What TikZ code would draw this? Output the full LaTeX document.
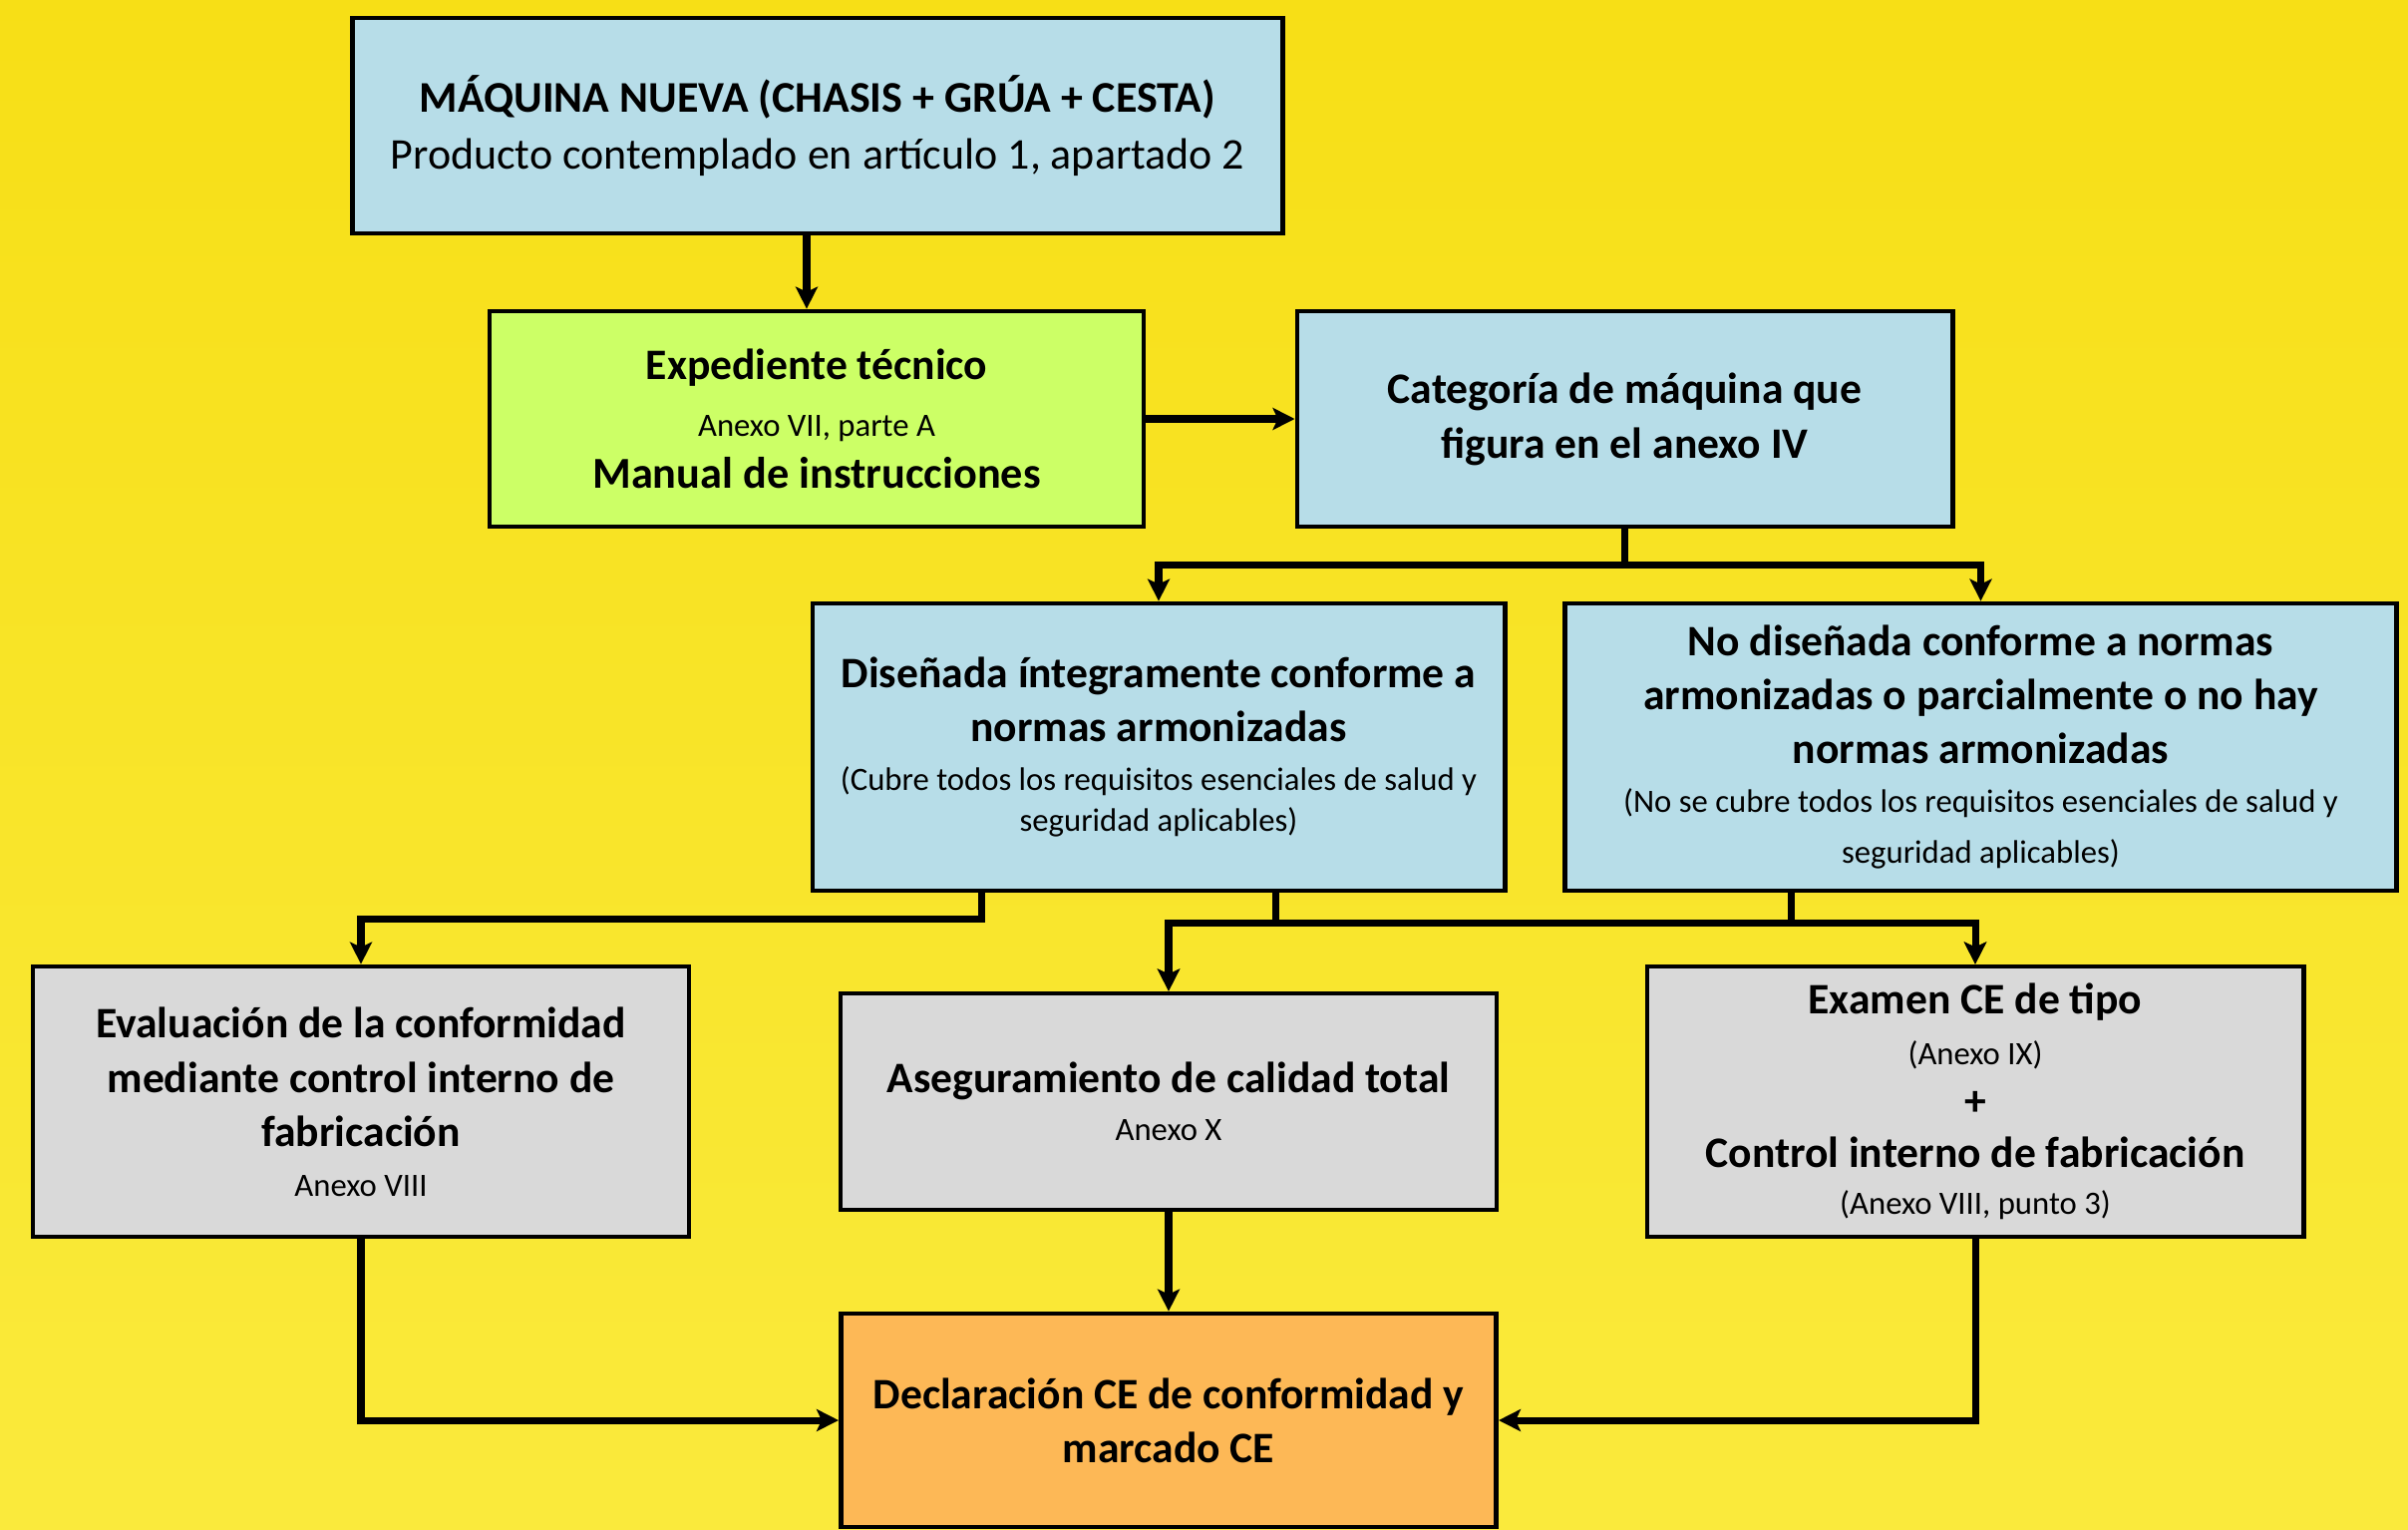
\documentclass[tikz,border=0pt]{standalone}
\usepackage{fontspec}
\setmainfont{Carlito}
\usetikzlibrary{arrows.meta}
\definecolor{bgtop}{RGB}{247,223,22}
\definecolor{bgbot}{RGB}{250,234,60}
\definecolor{boxblue}{RGB}{183,221,232}
\definecolor{boxgreen}{RGB}{204,255,102}
\definecolor{boxgray}{RGB}{217,217,217}
\definecolor{boxorange}{RGB}{253,184,86}
\newcommand\smalltxt{\fontsize{9.3}{11}\selectfont\mdseries}
\begin{document}
\begin{tikzpicture}[x=0.01cm,y=-0.01cm,
  box/.style={draw=black, line width=1.3pt, inner sep=0pt, align=center,
    font=\fontsize{12.4}{15.4}\selectfont\bfseries},
  arr/.style={line width=2pt, -{Stealth[length=0.22cm,width=0.22cm,inset=0.05cm]}}]
\useasboundingbox (0,0) rectangle (2415,1533);
\shade[top color=bgtop,bottom color=bgbot] (0,0) rectangle (2415,1533);

\node[box, fill=boxblue, minimum width=9.32cm, minimum height=2.16cm,
  font=\fontsize{12.5}{16.2}\selectfont\bfseries] (top) at (820,126)
  {MÁQUINA NUEVA (CHASIS + GRÚA + CESTA)\\{\mdseries\fontsize{12.5}{16}\selectfont Producto contemplado en artículo 1, apartado 2}};

\node[box, fill=boxgreen, minimum width=6.56cm, minimum height=2.16cm] (exp) at (819,420)
  {Expediente técnico\\[0.8pt]{\smalltxt Anexo VII, parte A}\\[-0.6pt]{\fontsize{12.6}{15}\selectfont Manual de instrucciones}};

\node[box, fill=boxblue, minimum width=6.57cm, minimum height=2.16cm,
  font=\fontsize{12.4}{15.7}\selectfont\bfseries] (cat) at (1629.5,420)
  {Categoría de máquina que\\figura en el anexo IV};

\node[box, fill=boxblue, minimum width=6.94cm, minimum height=2.88cm] (dis) at (1162,749)
  {Diseñada íntegramente conforme a\\normas armonizadas\\[-1.4pt]{\smalltxt (Cubre todos los requisitos esenciales de salud y}\\[-3.6pt]{\smalltxt seguridad aplicables)}};

\node[box, fill=boxblue, minimum width=8.33cm, minimum height=2.88cm] (nod) at (1986.5,749)
  {No diseñada conforme a normas\\armonizadas o parcialmente o no hay\\normas armonizadas\\[-1.4pt]{\smalltxt (No se cubre todos los requisitos esenciales de salud y}\\[-0.9pt]{\smalltxt seguridad aplicables)}};

\node[box, fill=boxgray, minimum width=6.58cm, minimum height=2.71cm] (eva) at (362,1104.5)
  {Evaluación de la conformidad\\[0.4pt]mediante control interno de\\fabricación\\[-1.4pt]{\smalltxt Anexo VIII}};

\node[box, fill=boxgray, minimum width=6.58cm, minimum height=2.17cm] (ase) at (1172,1104.5)
  {Aseguramiento de calidad total\\[-1.8pt]{\smalltxt Anexo X}};

\node[box, fill=boxgray, minimum width=6.58cm, minimum height=2.71cm] (exa) at (1981,1104.5)
  {Examen CE de tipo\\[-0.9pt]{\smalltxt (Anexo IX)}\\[-1pt]+\\[-0.6pt]Control interno de fabricación\\[-1.8pt]{\smalltxt (Anexo VIII, punto 3)}};

\node[box, fill=boxorange, minimum width=6.57cm, minimum height=2.14cm] (dec) at (1172,1424)
  {Declaración CE de conformidad y\\marcado CE};

% connectors
\draw[arr] ([xshift=-0.11cm]top.south) -- ([xshift=-0.11cm]top.south |- exp.north);
\draw[arr] (exp.east) -- (cat.west);
\draw[arr] (cat.south) -- ++(0,36) -| (dis.north);
\draw[arr] (cat.south) -- ++(0,36) -| (nod.north);
\draw[arr] ([xshift=-1.77cm]dis.south) -- ++(0,26) -| (eva.north);
\draw[arr] ([xshift=1.17cm]dis.south) -- ++(0,30) -| (ase.north);
\draw[arr] ([xshift=1.17cm]dis.south) -- ++(0,30) -| (exa.north);
\draw[arr] ([xshift=-1.895cm]nod.south) -- ++(0,30) -| (exa.north);
\draw[arr] ([xshift=-1.895cm]nod.south) -- ++(0,30) -| (ase.north);
\draw[arr] (ase.south) -- (dec.north);
\draw[arr] (eva.south) |- (dec.west);
\draw[arr] (exa.south) |- (dec.east);
\end{tikzpicture}
\end{document}
